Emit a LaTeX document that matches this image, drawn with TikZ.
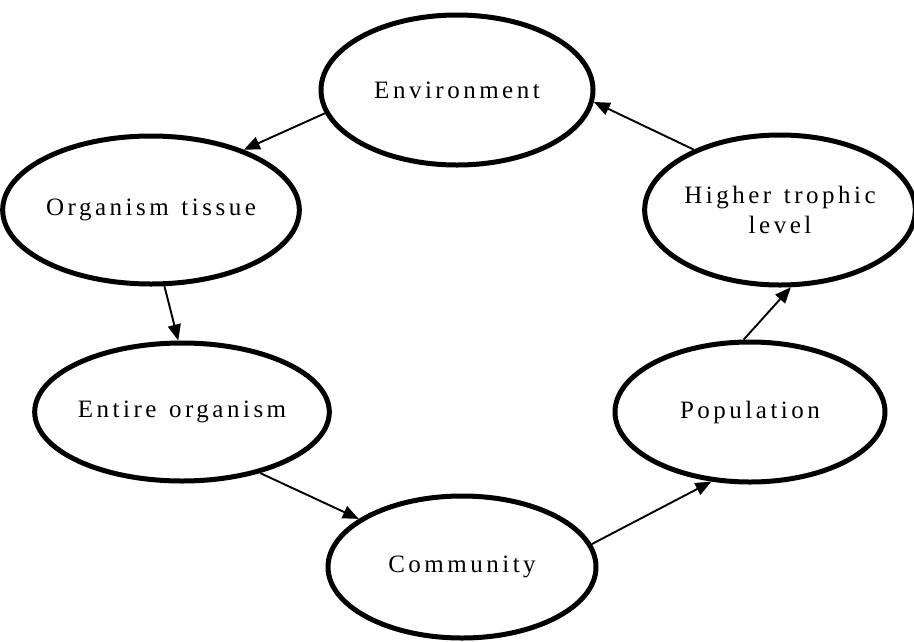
\documentclass[tikz,border=0pt]{standalone}
\usepackage{fontspec}
\setmainfont{Liberation Serif}
\newfontfamily\spacedfont[LetterSpace=14,WordSpace=1.3]{Liberation Serif}
\usetikzlibrary{shapes.geometric,arrows.meta}
\begin{document}
\begin{tikzpicture}[x=1pt,y=-1pt,
  eco/.style={ellipse, draw, line width=5pt, inner sep=0pt,
    font=\spacedfont\fontsize{25}{30}\selectfont, align=center},
  flow/.style={line width=1.9pt, -{Triangle[length=16pt,width=13pt]}}]
\useasboundingbox (0,0) rectangle (914,641);
\node[eco, minimum width=272pt, minimum height=150pt] (env) at (457,90) {Environment};
\node[eco, minimum width=268pt, minimum height=148pt] (tis) at (151,210) {Organism tissue};
\node[eco, minimum width=268pt, minimum height=138pt] (ent) at (182,412) {Entire organism};
\node[eco, minimum width=268pt, minimum height=142pt] (com) at (462,567) {Community};
\node[eco, minimum width=270pt, minimum height=140pt] (pop) at (750,412) {Population};
\node[eco, minimum width=264pt, minimum height=150pt] (hig) at (780,210) {Higher trophic\\level};
\draw[flow] (env.190) -- (tis.33);
\draw[flow] (tis.280) -- (ent.93);
\draw[flow] (ent.322) -- (com.155);
\draw[flow] (com.10) -- (pop.241);
\draw[flow] (pop.95) -- (hig.278);
\draw[flow] (hig.145) -- (env.355);
\end{tikzpicture}
\end{document}
